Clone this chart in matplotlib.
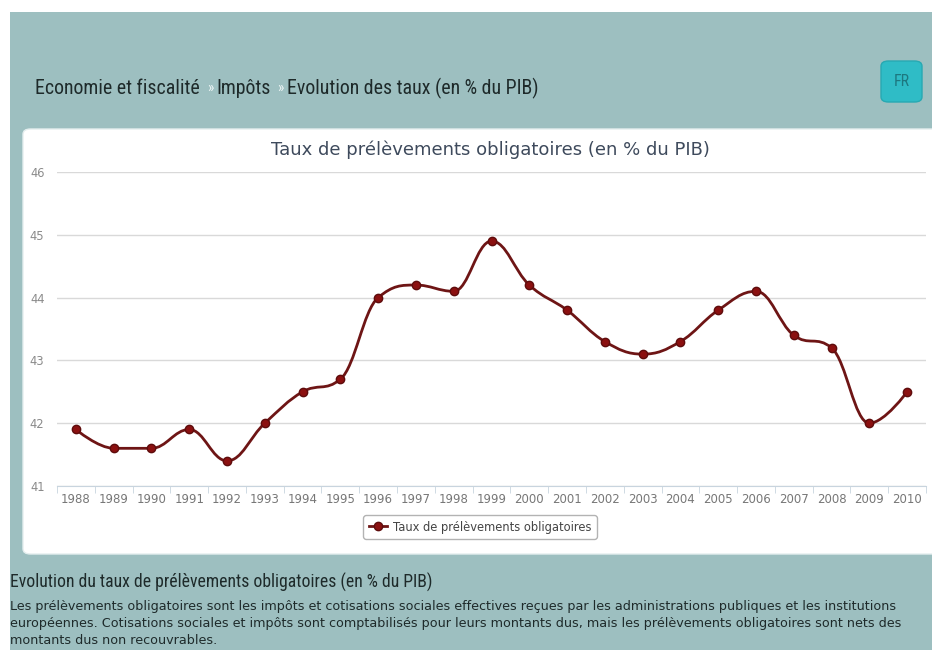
"""Taux de prelevements obligatoires (en % du PIB), 1988-2010."""

from matplotlib import pyplot as plt
from matplotlib.patches import FancyBboxPatch, Rectangle
from matplotlib.path import Path
from matplotlib.patches import PathPatch
from matplotlib.lines import Line2D
import numpy as np

years = ['1988', '1989', '1990', '1991', '1992', '1993', '1994', '1995',
         '1996', '1997', '1998', '1999', '2000', '2001', '2002', '2003',
         '2004', '2005', '2006', '2007', '2008', '2009', '2010']
taux = [41.9, 41.6, 41.6, 41.9, 41.4, 42.0, 42.5, 42.7, 44.0, 44.2, 44.1,
        44.9, 44.2, 43.8, 43.3, 43.1, 43.3, 43.8, 44.1, 43.4, 43.2, 42.0, 42.5]
y_ticks = [41, 42, 43, 44, 45, 46]

title = 'Taux de prélèvements obligatoires (en % du PIB)'
series_name = 'Taux de prélèvements obligatoires'
crumbs = ['Economie et fiscalité', 'Impôts', 'Evolution des taux (en % du PIB)']
sub_title = 'Evolution du taux de prélèvements obligatoires (en % du PIB)'
paragraph = [
    'Les prélèvements obligatoires sont les impôts et cotisations sociales effectives reçues par les administrations publiques et les institutions',
    'européennes. Cotisations sociales et impôts sont comptabilisés pour leurs montants dus, mais les prélèvements obligatoires sont nets des',
    'montants dus non recouvrables.',
]

W, H = 932, 650
TEAL = '#9dbfc0'
LINE = '#6e1515'
NARROW = ['Roboto Condensed', 'Roboto', 'DejaVu Sans']


def fx(px):
    return px / W


def fy(py):
    return 1 - py / H


def spline_path(xs, ys, smoothing=1.5):
    # highcharts-like spline: bezier control points around each point
    n = len(xs)
    left = [None] * n
    right = [None] * n
    d = smoothing + 1
    for i in range(1, n - 1):
        px, py = xs[i], ys[i]
        lx, ly = xs[i - 1], ys[i - 1]
        nx, ny = xs[i + 1], ys[i + 1]
        lcx, lcy = (smoothing * px + lx) / d, (smoothing * py + ly) / d
        rcx, rcy = (smoothing * px + nx) / d, (smoothing * py + ny) / d
        corr = (rcy - lcy) * (rcx - px) / (rcx - lcx) + py - rcy
        lcy += corr
        rcy += corr
        if lcy > ly and lcy > py:
            lcy = max(ly, py)
            rcy = 2 * py - lcy
        elif lcy < ly and lcy < py:
            lcy = min(ly, py)
            rcy = 2 * py - lcy
        if rcy > ny and rcy > py:
            rcy = max(ny, py)
            lcy = 2 * py - rcy
        elif rcy < ny and rcy < py:
            rcy = min(ny, py)
            lcy = 2 * py - rcy
        left[i] = (lcx, lcy)
        right[i] = (rcx, rcy)
    verts = [(xs[0], ys[0])]
    codes = [Path.MOVETO]
    for i in range(1, n):
        c1 = right[i - 1] or (xs[i - 1], ys[i - 1])
        c2 = left[i] or (xs[i], ys[i])
        verts += [c1, c2, (xs[i], ys[i])]
        codes += [Path.CURVE4] * 3
    return Path(verts, codes)


fig = plt.figure(figsize=(W / 100, H / 100), dpi=100)
fig.patch.set_facecolor('white')

# page background and white chart panel
fig.patches.append(Rectangle((fx(10), 0), 1, fy(12), transform=fig.transFigure,
                             facecolor=TEAL, edgecolor='none', zorder=-2))
fig.patches.append(FancyBboxPatch((fx(23), fy(554)), fx(932 - 23 + 10), (554 - 129) / H,
                                  boxstyle='round,pad=0,rounding_size=0.008',
                                  transform=fig.transFigure, facecolor='white',
                                  edgecolor='#e4eeee', lw=1, zorder=-1))

# FR button
fig.patches.append(FancyBboxPatch((fx(881), fy(102)), fx(41), 41 / H,
                                  boxstyle='round,pad=0,rounding_size=0.008',
                                  transform=fig.transFigure, facecolor='#2fbcc6',
                                  edgecolor='#27a9b2', lw=1, zorder=1))
fig.text(fx(901.5), fy(82), 'FR', ha='center', va='center', fontsize=11.5,
         color='#1d7880', family=NARROW, zorder=2)

# breadcrumb
renderer = fig.canvas.get_renderer()
x = fx(35)
for k, part in enumerate(crumbs):
    t = fig.text(x, fy(88), part, ha='left', va='center', fontsize=14.3,
                 color='#1e2a2a', family=NARROW)
    x = fig.transFigure.inverted().transform(t.get_window_extent(renderer))[1][0]
    if k < len(crumbs) - 1:
        s = fig.text(x + fx(7), fy(88), '»', ha='left', va='center', fontsize=11,
                     color='#eef6f6', family=NARROW)
        x = fig.transFigure.inverted().transform(s.get_window_extent(renderer))[1][0] + fx(3)

# chart
ax = fig.add_axes([fx(57), fy(486), fx(926 - 57), (486 - 172) / H], zorder=2)
ax.patch.set_alpha(0)
xs = np.arange(len(years))
ax.add_patch(PathPatch(spline_path(xs, taux), facecolor='none', edgecolor=LINE,
                       lw=2, zorder=3))
ax.plot(xs, taux, linestyle='none', marker='o', markersize=6,
        markerfacecolor='#8b1010', markeredgecolor='#5e0c0c', zorder=4)

ax.set_xlim(-0.5, len(years) - 0.5)
ax.set_ylim(y_ticks[0], y_ticks[-1])
ax.set_yticks(y_ticks)
ax.set_xticks(xs)
ax.set_xticklabels(years)
ax.set_xticks(np.arange(len(years) + 1) - 0.5, minor=True)
ax.grid(axis='y', color='#d9d9d9', lw=1)
ax.set_axisbelow(True)
for side in ['top', 'right', 'left']:
    ax.spines[side].set_visible(False)
ax.spines['bottom'].set_color('#c8d4de')
ax.tick_params(axis='y', length=0, pad=9, labelsize=8.3, labelcolor='#8a8a8a')
ax.tick_params(axis='x', which='major', length=0, pad=5, labelsize=8.5, labelcolor='#777777')
ax.tick_params(axis='x', which='minor', length=5, color='#c8d4de')

fig.text(fx(490), fy(150), title, ha='center', va='center', fontsize=13,
         color='#3e4a5c')

handle = Line2D([], [], color=LINE, lw=2, marker='o', markersize=6,
                markerfacecolor='#8b1010', markeredgecolor='#5e0c0c')
leg = fig.legend([handle], [series_name], loc='center',
                 bbox_to_anchor=(fx(480), fy(527)), fontsize=8.3, frameon=True,
                 handlelength=1.6, handletextpad=0.5, borderpad=0.45,
                 fancybox=True, labelcolor='#444444')
leg.get_frame().set_edgecolor('#a0a0a0')
leg.get_frame().set_linewidth(1)

# text below the chart
fig.text(fx(10), fy(582), sub_title, ha='left', va='center', fontsize=12.7,
         color='#1e2a2a', family=NARROW)
for i, line in enumerate(paragraph):
    fig.text(fx(10), fy(600 + 17 * i), line, ha='left', va='top', fontsize=9.2,
             color='#1e2a2a')

fig.savefig('out.png', dpi=100, facecolor=fig.get_facecolor())
